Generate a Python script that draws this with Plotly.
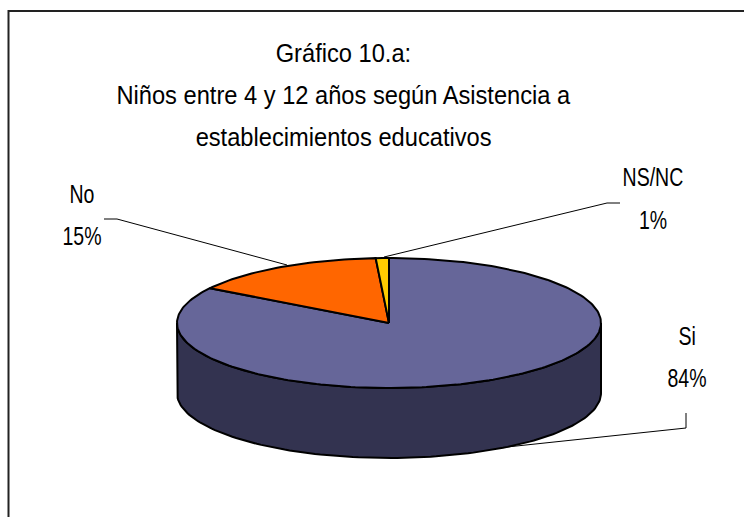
import numpy as np
import plotly.graph_objects as go

categories = ["Si", "No", "NS/NC"]
values = [84, 15, 1]
top_colors = ["#666699", "#FF6600", "#FFCC00"]
side_color = "#333350"
title_lines = ["Gráfico 10.a:", "Niños entre 4 y 12 años según Asistencia a", "establecimientos educativos"]

W, H = 744, 517
CX, CY, RX, RY, DEPTH = 389, 323, 212, 65, 70
FONT = "Liberation Sans, sans-serif"

fig = go.Figure()


def pt(theta, dy=0):
    return CX + RX * np.sin(theta), CY - RY * np.cos(theta) + dy


# slice boundaries from the data, clockwise from 12 o'clock
fracs = np.cumsum([0] + values) / sum(values) * 2 * np.pi

# leader lines (drawn first so the pie sits on top of their ends)
leaders = [
    ([686, 686, 507], [413, 428, 447]),
    ([104, 117, 287], [219, 219, 265]),
    ([620, 607, 384], [203, 203, 257]),
]
for lx, ly in leaders:
    fig.add_trace(go.Scatter(x=lx, y=ly, mode="lines", line=dict(color="black", width=1), hoverinfo="skip"))

# side wall: visible front half
t = np.linspace(np.pi / 2, 3 * np.pi / 2, 120)
xt, yt = pt(t)
xb, yb = pt(t[::-1], DEPTH)
fig.add_trace(go.Scatter(x=np.r_[xt, xb, xt[0]], y=np.r_[yt, yb, yt[0]], mode="lines", fill="toself",
                         fillcolor=side_color, line=dict(color="black", width=2), hoverinfo="skip"))

# top faces
for i, cat in enumerate(categories):
    t = np.linspace(fracs[i], fracs[i + 1], max(3, int(values[i] * 3)))
    x, y = pt(t)
    fig.add_trace(go.Scatter(x=np.r_[CX, x, CX], y=np.r_[CY, y, CY], mode="lines", fill="toself",
                             fillcolor=top_colors[i], line=dict(color="black", width=2),
                             name=cat, hoverinfo="skip"))

annotations = []
for txt, y in zip(title_lines, [53, 95, 137]):
    annotations.append(dict(x=343.5, y=y, text=txt, font=dict(family=FONT, size=26, color="black")))
label_pos = [(686.5, 336, 378), (82, 194, 236), (653, 177, 220)]
for cat, v, (lx, y1, y2) in zip(categories, values, label_pos):
    for txt, yy in ((cat, y1), (f"{v}%", y2)):
        annotations.append(dict(x=lx, y=yy, text=txt, font=dict(family=FONT, size=25, color="black")))
for a in annotations:
    a.update(xref="x", yref="y", showarrow=False, xanchor="center", yanchor="middle")

fig.update_layout(
    width=W, height=H, margin=dict(l=0, r=0, t=0, b=0), showlegend=False,
    paper_bgcolor="white", plot_bgcolor="white",
    xaxis=dict(range=[0, W], visible=False, fixedrange=True),
    yaxis=dict(range=[H, 0], visible=False, fixedrange=True),
    annotations=annotations,
    shapes=[dict(type="rect", xref="x", yref="y", x0=8.5, y0=11, x1=W + 5, y1=H + 5,
                 line=dict(color="#222222", width=2))],
)

# page margin off; no narrow font is installed, so condense the text to the reference widths
post = """
document.body.style.margin = '0';
document.body.style.overflow = 'hidden';
document.querySelectorAll('.annotation-text').forEach(function (t) {
  var f = parseFloat(t.style.fontSize);
  var r = f > 25.5 ? 0.91 : 0.78;
  t.setAttribute('lengthAdjust', 'spacingAndGlyphs');
  t.setAttribute('textLength', t.getComputedTextLength() * r);
});
"""
fig.write_html("out.html", config=dict(displayModeBar=False), post_script=post)
